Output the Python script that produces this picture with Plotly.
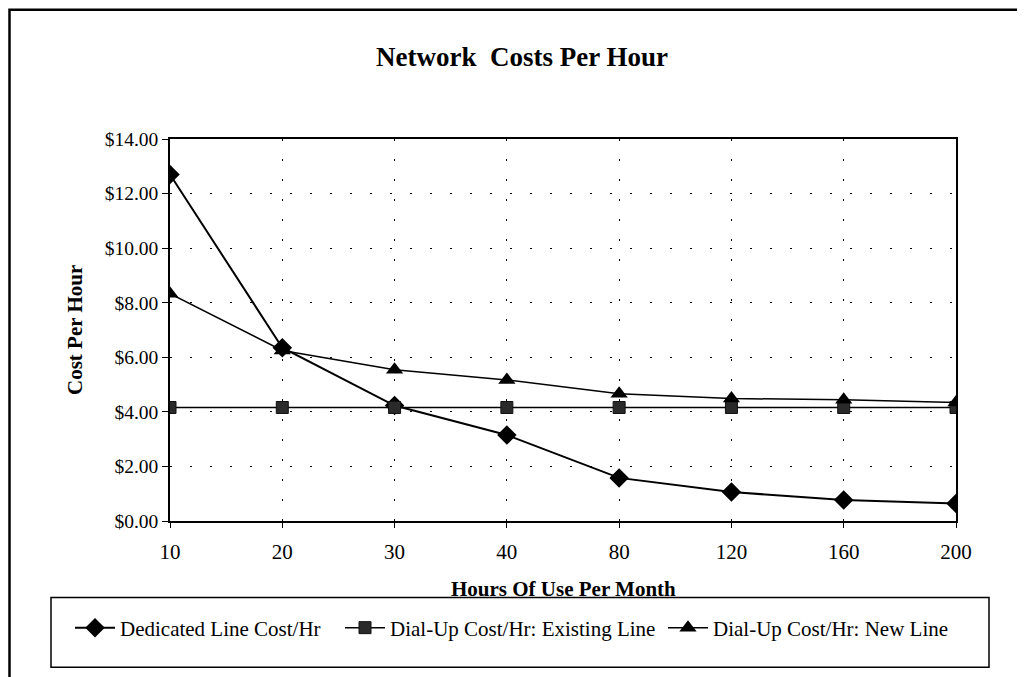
import plotly.graph_objects as go

hours = ["10", "20", "30", "40", "80", "120", "160", "200"]
dedicated = [12.70, 6.35, 4.23, 3.15, 1.58, 1.06, 0.77, 0.64]
dialup_existing = [4.16, 4.16, 4.16, 4.16, 4.16, 4.16, 4.16, 4.16]
dialup_new = [8.33, 6.25, 5.54, 5.17, 4.66, 4.49, 4.44, 4.34]

series_names = ["Dedicated Line Cost/Hr", "Dial-Up Cost/Hr: Existing Line", "Dial-Up Cost/Hr: New Line"]
title_text = "Network  Costs Per Hour"
y_title = "Cost Per Hour"
x_title = "Hours Of Use Per Month"

# page body adds an 8px offset; work in screen pixels and shift
OFF = 8
W, H = 1025 - OFF, 677 - OFF
L, R, T, B = 170 - OFF, 956 - OFF, 139 - OFF, 521.5 - OFF
FONT = "Liberation Serif, Times New Roman, serif"

def px_x(p):
    return (p - OFF - L) / (R - L)

def px_y(p):
    return (B - (p - OFF)) / (B - T)

fig = go.Figure()
fig.add_trace(go.Scatter(x=hours, y=dedicated, name=series_names[0], mode="lines+markers",
                         line=dict(color="black", width=2), legend="legend",
                         marker=dict(symbol="diamond", size=15, color="black")))
fig.add_trace(go.Scatter(x=hours, y=dialup_existing, name=series_names[1], mode="lines+markers",
                         line=dict(color="black", width=1.5), legend="legend2",
                         marker=dict(symbol="square", size=12, color="#2a2a2a",
                                     line=dict(color="#111111", width=1))))
fig.add_trace(go.Scatter(x=hours, y=dialup_new, name=series_names[2], mode="lines+markers",
                         line=dict(color="black", width=1.5), legend="legend3",
                         marker=dict(symbol="triangle-up", size=15, color="black")))

def leg(text_start):
    return dict(orientation="h", xref="container", yref="container",
                x=(text_start - 50 - OFF) / W, y=1 - (628 - OFF) / H,
                xanchor="left", yanchor="middle",
                font=dict(size=21, family=FONT, color="black"),
                bgcolor="rgba(0,0,0,0)", borderwidth=0, itemwidth=40)

fig.update_layout(
    width=W, height=H,
    margin=dict(l=L, r=W - R, t=T, b=H - B),
    paper_bgcolor="white", plot_bgcolor="white",
    font=dict(family=FONT, color="black", size=20),
    title=dict(text="<b>" + title_text + "</b>", x=(522 - OFF) / W, y=1 - (57 - OFF) / H,
               xref="container", yref="container", xanchor="center", yanchor="middle",
               font=dict(size=27, family=FONT, color="black")),
    showlegend=True,
    legend=leg(120),
    legend2=leg(390),
    legend3=leg(713),
)

fig.update_xaxes(type="category", range=[0, 7], showline=True, linecolor="black", linewidth=1.5,
                 mirror=True, ticks="outside", ticklen=5, tickcolor="black",
                 showgrid=True, gridcolor="black", gridwidth=1, griddash="2px,18px",
                 tickfont=dict(size=21, family=FONT), ticklabelstandoff=6, zeroline=False)
fig.update_yaxes(range=[0, 14], dtick=2, tickformat="$.2f", showline=True, linecolor="black",
                 linewidth=1.5, mirror=True, ticks="outside", ticklen=6, tickcolor="black",
                 showgrid=True, gridcolor="black", gridwidth=1, griddash="2px,18px",
                 tickfont=dict(size=19.5, family=FONT), zeroline=False)

fig.add_annotation(text="<b>" + y_title + "</b>", xref="paper", yref="paper",
                   x=px_x(75), y=0.5, textangle=-90, showarrow=False,
                   font=dict(size=21, family=FONT), xanchor="center", yanchor="middle")
fig.add_annotation(text="<b>" + x_title + "</b>", xref="paper", yref="paper",
                   x=0.5, y=px_y(590), showarrow=False,
                   font=dict(size=21, family=FONT), xanchor="center", yanchor="middle")

# outer chart frame (left and top edges visible)
fig.add_shape(type="rect", xref="paper", yref="paper",
              x0=px_x(9.5), x1=px_x(1060), y0=px_y(9.5), y1=px_y(720),
              line=dict(color="black", width=2.5), layer="below")
# legend frame
fig.add_shape(type="rect", xref="paper", yref="paper",
              x0=px_x(51), x1=px_x(989), y0=px_y(598), y1=px_y(668),
              line=dict(color="black", width=1.5), layer="below")

fig.write_html("out.html")
